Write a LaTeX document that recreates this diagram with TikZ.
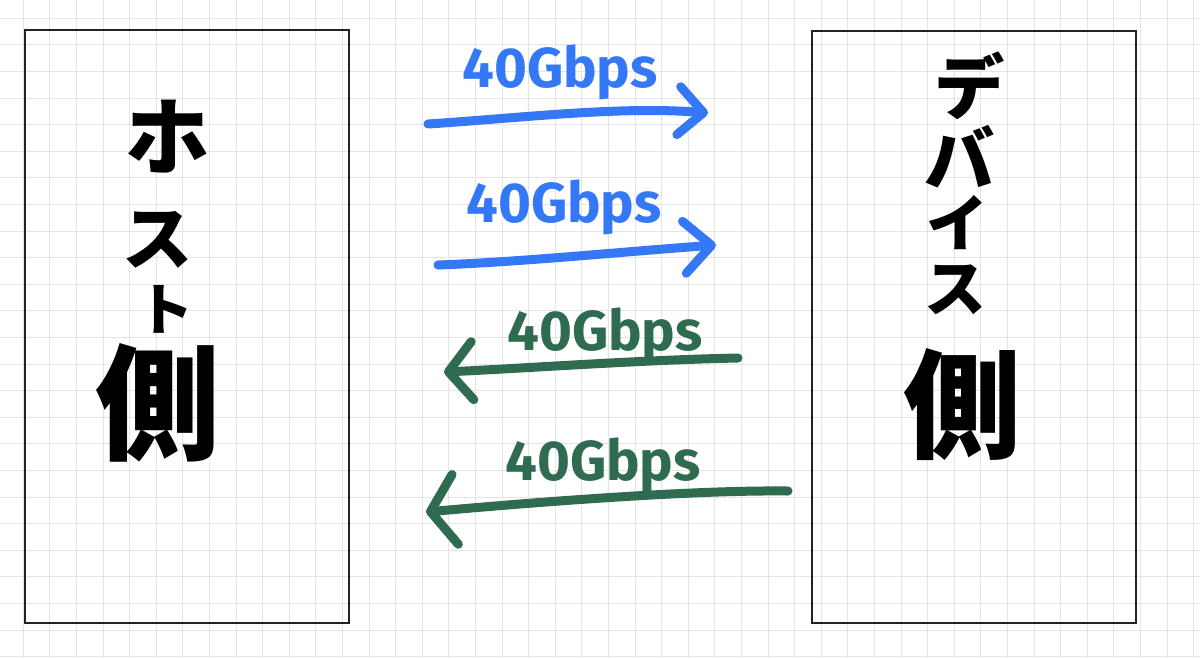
\documentclass[tikz,border=0pt]{standalone}
\usepackage{fontspec}
\setsansfont{Fira Sans}
\newfontfamily\jpfont{Noto Sans CJK JP}
\usetikzlibrary{arrows.meta}

\begin{document}
\begin{tikzpicture}[x=0.025cm, y=-0.025cm,
  lato/.style={draw=colBox, line width=1.4pt, minimum width=8.1cm, minimum height=14.8cm, inner sep=0pt},
  kana/.style={inner sep=0pt, font=\jpfont\bfseries\fontsize{#1}{#1}\selectfont},
  flusso/.style={line width=6.4pt, line cap=round, line join=round},
  banda/.style={inner sep=0pt, font=\sffamily\bfseries\fontsize{40pt}{40pt}\selectfont}]

% Colori
\definecolor{colGrid}{HTML}{E4E4E4}
\definecolor{colBox}{HTML}{222222}
\definecolor{colBlu}{HTML}{3478F6}
\definecolor{colVerde}{HTML}{2E6B50}

% Sfondo e quadrettatura
\fill[white] (0,0) rectangle (1200,658);
\useasboundingbox (0,0) rectangle (1200,658);
\foreach \i in {0,...,44}
  \draw[colGrid, line width=0.6pt] ({23.3+26.6*\i},0) -- ({23.3+26.6*\i},658);
\foreach \j in {0,...,24}
  \draw[colGrid, line width=0.6pt] (0,{18.3+26.6*\j}) -- (1200,{18.3+26.6*\j});

% Riquadri
\node[lato] (host) at (187,326.5) {};
\node[lato] (dev) at (974,327) {};

% Lato host
\node[kana=60pt] (h1) at (168,137) {ホ};
\node[kana=50pt] (h2) at (158,240) {ス};
\node[kana=40pt] (h3) at (166,309) {ト};
\node[kana=89pt] (h4) at (158,403) {側};

% Lato dispositivo
\node[kana=50pt] (d1) at (970,86) {デ};
\node[kana=50pt] (d2) at (960,157) {バ};
\node[kana=44pt] (d3) at (957,223) {イ};
\node[kana=44pt] (d4) at (955,290) {ス};
\node[kana=84pt] (d5) at (963,405) {側};

% Frecce
\coordinate (a1s) at (428,124); \coordinate (a1e) at (708,113);
\coordinate (a2s) at (438,265); \coordinate (a2e) at (716,245);
\coordinate (a3s) at (738,358); \coordinate (a3e) at (444,372);
\coordinate (a4s) at (788,491); \coordinate (a4e) at (426,512);

\draw[flusso, colBlu, -{Straight Barb[length=0.62cm, width=1.2cm, round]}]
  (a1s) .. controls (520,118) and (620,106) .. (a1e);
\draw[flusso, colBlu, -{Straight Barb[length=0.68cm, width=1.3cm, round]}]
  (a2s) .. controls (520,262) and (620,252) .. (a2e);
\draw[flusso, colVerde, -{Straight Barb[length=0.6cm, width=1.45cm, round]}]
  (a3s) .. controls (640,360) and (530,368) .. (a3e);
\draw[flusso, colVerde, -{Straight Barb[length=0.62cm, width=1.75cm, round]}]
  (a4s) .. controls (700,490) and (560,500) .. (a4e);

% Etichette
\node[banda, text=colBlu] (l1) at (560,72) {40Gbps};
\node[banda, text=colBlu] (l2) at (564,207) {40Gbps};
\node[banda, text=colVerde] (l3) at (605,335) {40Gbps};
\node[banda, text=colVerde] (l4) at (603,465) {40Gbps};

\end{tikzpicture}
\end{document}
